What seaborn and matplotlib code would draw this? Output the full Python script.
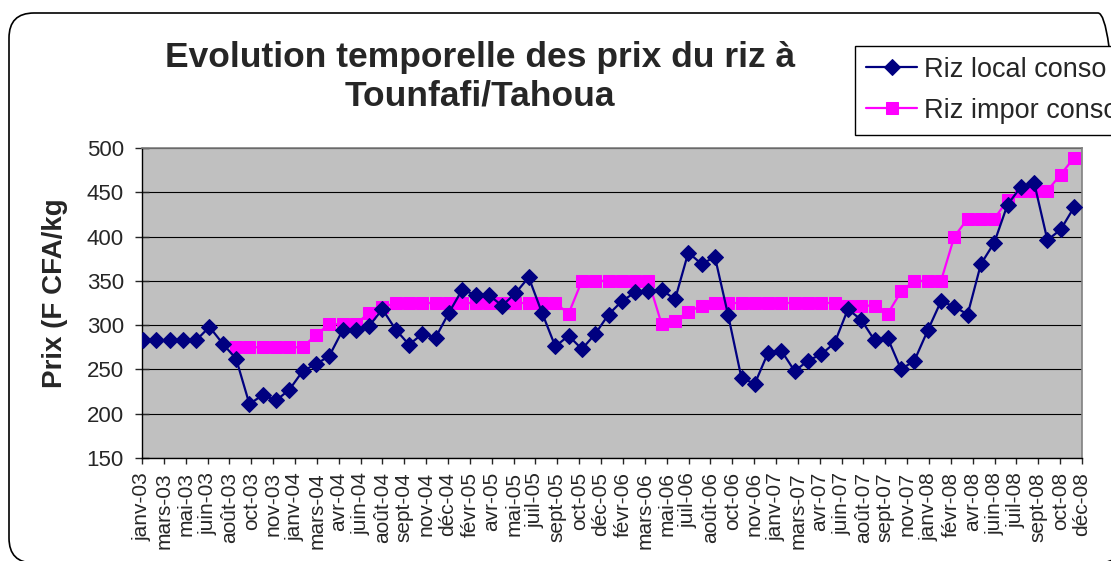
import numpy as np
import pandas as pd
import matplotlib
matplotlib.use('Agg')
import matplotlib.pyplot as plt
import matplotlib.patches as mpatches
from matplotlib.transforms import IdentityTransform
import seaborn as sns

# --- Donnees ---
riz_local = [283, 283, 283, 283, 283, 298, 279, 262, 211, 221,
             215, 227, 248, 256, 265, 294, 295, 299, 318, 295,
             278, 290, 286, 314, 340, 334, 334, 322, 336, 354,
             314, 276, 288, 273, 290, 312, 327, 337, 339, 340,
             329, 382, 369, 377, 311, 240, 234, 269, 271, 248,
             260, 267, 280, 318, 306, 283, 285, 250, 260, 294,
             327, 321, 312, 369, 393, 436, 456, 461, 396, 408, 433]

riz_impor = [np.nan, np.nan, np.nan, np.nan, np.nan, np.nan, np.nan,
             275, 275, 275, 275, 275, 275, 289, 301, 301, 301, 314, 320,
             325, 325, 325, 325, 325, 325, 325, 325, 325, 325, 325, 325, 325,
             313, 350, 350, 350, 350, 350, 350, 301, 305, 315, 322,
             325, 325, 325, 325, 325, 325, 325, 325, 325, 325,
             322, 322, 322, 313, 338, 350, 350, 350, 400, 420, 420, 420,
             441, 452, 452, 452, 470, 489]

tick_labels = ['janv-03', 'mars-03', 'mai-03', 'juin-03', 'août-03', 'oct-03', 'nov-03',
               'janv-04', 'mars-04', 'avr-04', 'juin-04', 'août-04', 'sept-04', 'nov-04',
               'déc-04', 'févr-05', 'avr-05', 'mai-05', 'juil-05', 'sept-05', 'oct-05',
               'déc-05', 'févr-06', 'mars-06', 'mai-06', 'juil-06', 'août-06', 'oct-06',
               'nov-06', 'janv-07', 'mars-07', 'avr-07', 'juin-07', 'août-07', 'sept-07',
               'nov-07', 'janv-08', 'févr-08', 'avr-08', 'juin-08', 'juil-08', 'sept-08',
               'oct-08', 'déc-08']

series_names = ['Riz local conso', 'Riz impor conso']

df = pd.DataFrame({'mois': np.arange(len(riz_local)),
                   series_names[0]: riz_local,
                   series_names[1]: riz_impor})

sns.set_style('ticks')
plt.rcParams['font.family'] = ['Liberation Sans', 'DejaVu Sans']

fig = plt.figure(figsize=(11.11, 5.61), dpi=100)
ax = fig.add_axes([142 / 1111, 1 - 458 / 561, 940 / 1111, 310 / 561])
ax.set_facecolor('#C0C0C0')

# cadre arrondi du graphique (depasse a droite)
cadre = mpatches.FancyBboxPatch((9, -2), 1114, 550,
                                boxstyle='round,pad=0,rounding_size=25',
                                transform=IdentityTransform(), fill=False,
                                edgecolor='black', linewidth=1.2)
fig.patches.append(cadre)

sns.lineplot(data=df, x='mois', y=series_names[0], ax=ax, color='#000080',
             marker='D', markersize=8.5, markeredgecolor='#000080',
             linewidth=1.6, label=series_names[0], legend=False, zorder=3)
imp = df.dropna(subset=[series_names[1]])
sns.lineplot(data=imp, x='mois', y=series_names[1], ax=ax, color='#FF00FF',
             marker='s', markersize=8, markeredgecolor='#FF00FF',
             linewidth=1.6, label=series_names[1], legend=False, zorder=2)

# axes
xmin, xmax = -0.075, 70.6
ax.set_xlim(xmin, xmax)
ax.set_ylim(150, 500)
ax.set_yticks(np.arange(150, 501, 50))
ax.set_xticks(np.linspace(xmin, xmax, len(tick_labels)))
ax.set_xticklabels(tick_labels, rotation=90, fontsize=15)
ax.tick_params(axis='y', labelsize=16, direction='inout', length=10, width=1, pad=8)
ax.tick_params(axis='x', direction='out', length=4, width=1, pad=6)
ax.yaxis.grid(True, color='black', linewidth=0.8, zorder=0)
ax.set_axisbelow(True)
for s in ['top', 'right']:
    ax.spines[s].set_color('#808080')
    ax.spines[s].set_linewidth(1.2)
for s in ['left', 'bottom']:
    ax.spines[s].set_color('black')
    ax.spines[s].set_linewidth(1)

ax.set_xlabel('')
ax.set_ylabel('Prix (F CFA/kg', fontsize=20, fontweight='bold')
ax.yaxis.set_label_coords(-0.079, 0.532)

fig.text(480 / 1111, 1 - 77 / 561, 'Evolution temporelle des prix du riz à\nTounfafi/Tahoua',
         ha='center', va='center', fontsize=25.5, fontweight='bold', linespacing=1.2)

handles, labels = ax.get_legend_handles_labels()
leg = fig.legend(handles, labels, loc='upper left',
                 bbox_to_anchor=(855 / 1111, 1 - 46 / 561),
                 fontsize=19.5, frameon=True, fancybox=False, framealpha=1,
                 edgecolor='black', handlelength=1.9, handletextpad=0.25,
                 labelspacing=0.55, borderpad=0.4, borderaxespad=0)
leg.get_frame().set_linewidth(1)

plt.savefig('out.png', dpi=100)
